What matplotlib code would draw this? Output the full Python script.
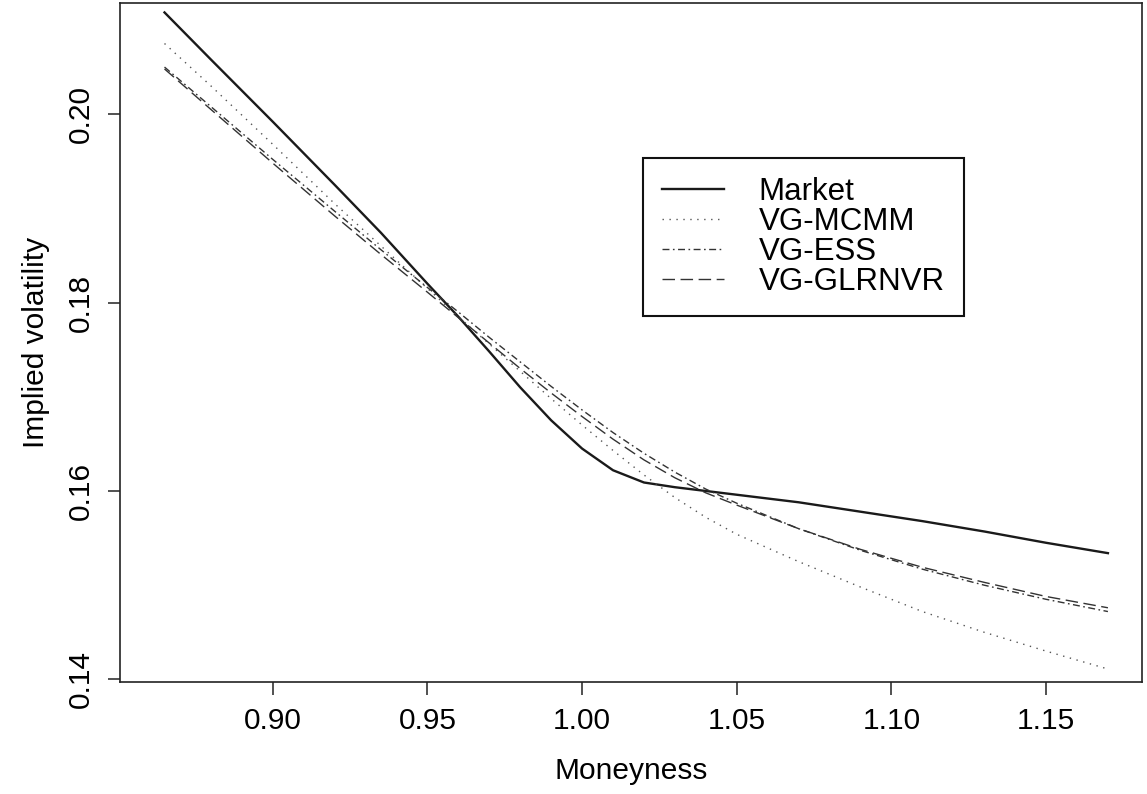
import matplotlib
matplotlib.use("Agg")
import matplotlib.pyplot as plt

plt.rcParams['font.family'] = ['Liberation Sans', 'DejaVu Sans']

# moneyness grid
moneyness = [0.865, 0.88, 0.90, 0.92, 0.935, 0.95, 0.96, 0.97, 0.98, 0.99,
             1.00, 1.01, 1.02, 1.03, 1.04, 1.05, 1.07, 1.09, 1.11, 1.13,
             1.15, 1.17]

market = [0.2108, 0.2058, 0.1992, 0.1925, 0.1874, 0.1820, 0.1785, 0.1748,
          0.1710, 0.1675, 0.1645, 0.1622, 0.1609, 0.1604, 0.1600, 0.1596,
          0.1588, 0.1578, 0.1568, 0.1557, 0.1545, 0.1534]

vg_mcmm = [0.2075, 0.2030, 0.1968, 0.1905, 0.1860, 0.1815, 0.1785, 0.1756,
           0.1727, 0.1698, 0.1670, 0.1643, 0.1617, 0.1593, 0.1572, 0.1554,
           0.1525, 0.1498, 0.1472, 0.1450, 0.1430, 0.1411]

vg_ess = [0.2050, 0.2008, 0.1952, 0.1897, 0.1856, 0.1816, 0.1790, 0.1763,
          0.1737, 0.1711, 0.1686, 0.1662, 0.1640, 0.1620, 0.1602, 0.1587,
          0.1560, 0.1537, 0.1517, 0.1500, 0.1485, 0.1472]

vg_glrnvr = [0.2048, 0.2005, 0.1948, 0.1892, 0.1851, 0.1811, 0.1784, 0.1757,
             0.1730, 0.1704, 0.1679, 0.1655, 0.1633, 0.1614, 0.1598, 0.1585,
             0.1560, 0.1538, 0.1519, 0.1503, 0.1488, 0.1476]

x_ticks = [0.90, 0.95, 1.00, 1.05, 1.10, 1.15]
y_ticks = [0.14, 0.16, 0.18, 0.20]

fig = plt.figure(figsize=(11.47, 7.94), dpi=100)
ax = fig.add_axes([0.1046, 0.1414, 0.8910, 0.8548])

ax.plot(moneyness, market, color='#1a1a1a', lw=1.7, label='Market')
ax.plot(moneyness, vg_mcmm, color='#555555', lw=1.0, dashes=(1, 4), label='VG-MCMM')
ax.plot(moneyness, vg_ess, color='#333333', lw=1.0, dashes=(5, 2.5, 1.2, 2.5), label='VG-ESS')
ax.plot(moneyness, vg_glrnvr, color='#333333', lw=1.0, dashes=(9, 4), label='VG-GLRNVR')

ax.set_xlim(0.8506, 1.1810)
ax.set_ylim(0.13975, 0.2118)
ax.set_xticks(x_ticks)
ax.set_xticklabels(['%.2f' % v for v in x_ticks])
ax.set_yticks(y_ticks)
ax.set_yticklabels(['%.2f' % v for v in y_ticks], rotation=90, va='center')

ax.tick_params(direction='out', length=9, width=1.1, labelsize=21.5, pad=9, color='#222222')
for s in ax.spines.values():
    s.set_linewidth(1.2)
    s.set_color('#222222')

ax.set_xlabel('Moneyness', fontsize=21.5, labelpad=16)
ax.set_ylabel('Implied volatility', fontsize=21.5, labelpad=12)

leg = ax.legend(loc='upper left', bbox_to_anchor=(643 / 1147, 1 - 158 / 794),
                bbox_transform=fig.transFigure, borderaxespad=0,
                fontsize=22.5, fancybox=False, framealpha=1, edgecolor='#111111',
                handlelength=2.0, handletextpad=1.1, labelspacing=0.0,
                borderpad=0.6)
leg.get_frame().set_linewidth(1.5)

fig.savefig('out.png', dpi=100)
